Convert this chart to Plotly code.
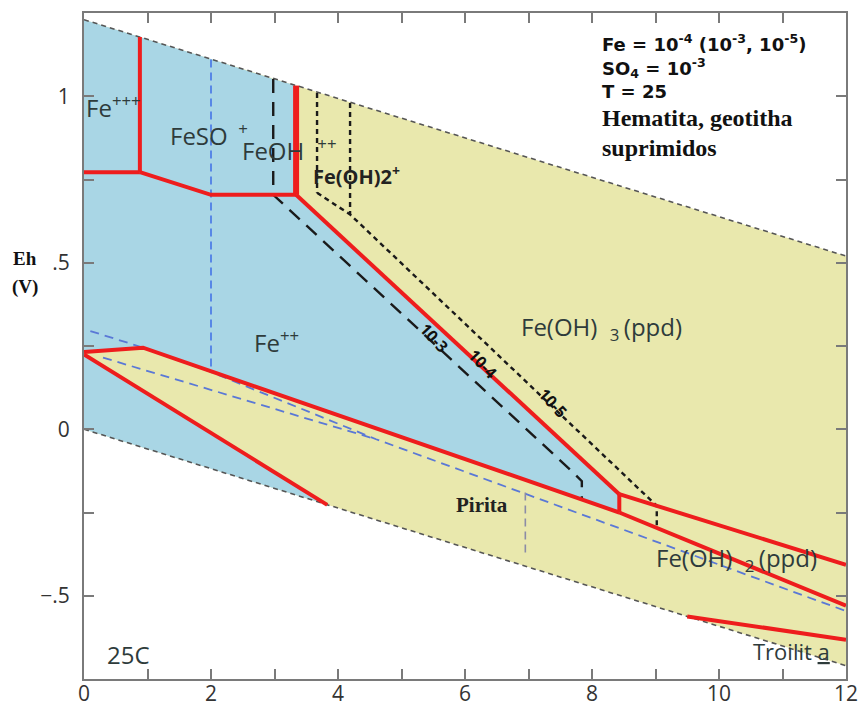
import plotly.graph_objects as go

# Eh-pH diagram for the Fe-S-O-H system at 25 C
# ---- water stability limits ----
water_ph = [0, 12]
o2_eh = [1.23, 0.52]
h2_eh = [0.0, -0.71]

# ---- field polygons ----
stable_ph = [0, 12, 12, 0]
stable_eh = [1.23, 0.52, -0.71, 0.0]

aqueous_ph = [0, 0.88, 2.0, 2.98, 3.34, 3.34, 8.43, 8.43, 0.93, 0]
aqueous_eh = [1.23, 1.178, 1.112, 1.052, 1.032, 0.704, -0.195, -0.25, 0.245, 0.232]

fe2_low_ph = [0, 3.83, 0]
fe2_low_eh = [0.225, -0.227, 0.0]

# ---- Fe = 1e-4 boundaries (solid red) ----
fe3_feso4_ph = [0.88, 0.88]
fe3_feso4_eh = [1.178, 0.772]
fe3_fe2_ph = [0, 0.88]
fe3_fe2_eh = [0.772, 0.772]
feso4_fe2_ph = [0.88, 2.0, 3.34]
feso4_fe2_eh = [0.772, 0.704, 0.704]
feoh_ppd_ph = [3.34, 3.34]
feoh_ppd_eh = [1.032, 0.704]
fe2_feoh3_ph = [3.34, 8.43]
fe2_feoh3_eh = [0.704, -0.195]
fe2_feoh2_ph = [8.43, 8.43]
fe2_feoh2_eh = [-0.195, -0.25]
feoh3_feoh2_ph = [8.43, 12]
feoh3_feoh2_eh = [-0.195, -0.407]
fe2_pyrite_ph = [0, 0.93, 8.43]
fe2_pyrite_eh = [0.232, 0.245, -0.25]
pyrite_feoh2_ph = [8.43, 12]
pyrite_feoh2_eh = [-0.25, -0.53]
pyrite_fe2_ph = [0, 3.83]
pyrite_fe2_eh = [0.225, -0.227]
troilite_ph = [9.5, 12]
troilite_eh = [-0.562, -0.632]

# ---- Fe = 1e-3 boundaries (long dash) ----
fe_m3_ph = [2.98, 2.98, 7.70, 7.84, 7.84]
fe_m3_eh = [1.052, 0.704, -0.129, -0.156, -0.21]

# ---- Fe = 1e-5 boundaries (short dash) ----
fe_m5_a_ph = [3.67, 3.67]
fe_m5_a_eh = [1.01, 0.71]
fe_m5_b_ph = [4.19, 4.19]
fe_m5_b_eh = [0.98, 0.645]
fe_m5_c_ph = [3.67, 4.19, 9.02, 9.02]
fe_m5_c_eh = [0.71, 0.645, -0.23, -0.30]

# ---- sulfur species boundaries (blue dashed) ----
hso4_so4_ph = [2.0, 2.0]
hso4_so4_eh = [1.11, 0.174]
sulfate_h2s_ph = [0.1, 0.85, 2.0, 4.6, 12]
sulfate_h2s_eh = [0.295, 0.25, 0.172, -0.03, -0.546]
sulfate_s_ph = [0.3, 4.6]
sulfate_s_eh = [0.215, -0.03]
h2s_hs_ph = [6.95, 6.95]
h2s_hs_eh = [-0.19, -0.385]

# ---- axis labels ----
x_tick_vals = [0, 2, 4, 6, 8, 10, 12]
x_tick_text = ["0", "2", "4", "6", "8", "10", "12"]
y_tick_vals = [-0.5, 0, 0.5, 1]
y_tick_text = ["\u2212.5", "0", ".5", "1"]

BLUE_FILL = "#a9d6e5"
YELLOW_FILL = "#e9e8ad"
RED = "#ee1d1d"
SULF = "#5a78d6"

fig = go.Figure()


def polygon(xs, ys, color):
    fig.add_trace(go.Scatter(x=xs, y=ys, fill="toself", fillcolor=color,
                             mode="none", hoverinfo="skip", showlegend=False))


def line(xs, ys, color, width, dash="solid"):
    fig.add_trace(go.Scatter(x=xs, y=ys, mode="lines",
                             line=dict(color=color, width=width, dash=dash),
                             hoverinfo="skip", showlegend=False))


polygon(stable_ph, stable_eh, YELLOW_FILL)
polygon(aqueous_ph, aqueous_eh, BLUE_FILL)
polygon(fe2_low_ph, fe2_low_eh, BLUE_FILL)

# water limits
line(water_ph, o2_eh, "#555555", 1.6, "5px,4px")
line(water_ph, h2_eh, "#555555", 1.6, "5px,4px")

# sulfur boundaries
line(hso4_so4_ph, hso4_so4_eh, "#4f7fe6", 1.8, "8px,5px")
line(sulfate_h2s_ph, sulfate_h2s_eh, SULF, 1.8, "9px,6px")
line(sulfate_s_ph, sulfate_s_eh, SULF, 1.8, "9px,6px")
line(h2s_hs_ph, h2s_hs_eh, "#8c8ca6", 1.6, "8px,5px")

# alternative Fe concentrations
line(fe_m3_ph, fe_m3_eh, "#1a1a1a", 2.4, "14px,9px")
line(fe_m5_a_ph, fe_m5_a_eh, "#1a1a1a", 2.4, "5px,4px")
line(fe_m5_b_ph, fe_m5_b_eh, "#1a1a1a", 2.4, "5px,4px")
line(fe_m5_c_ph, fe_m5_c_eh, "#1a1a1a", 2.4, "5px,4px")

# Fe = 1e-4 boundaries
for xs, ys in [(fe3_feso4_ph, fe3_feso4_eh), (fe3_fe2_ph, fe3_fe2_eh),
               (feso4_fe2_ph, feso4_fe2_eh), (fe2_feoh3_ph, fe2_feoh3_eh),
               (fe2_feoh2_ph, fe2_feoh2_eh), (feoh3_feoh2_ph, feoh3_feoh2_eh),
               (fe2_pyrite_ph, fe2_pyrite_eh), (pyrite_feoh2_ph, pyrite_feoh2_eh),
               (pyrite_fe2_ph, pyrite_fe2_eh), (troilite_ph, troilite_eh)]:
    line(xs, ys, RED, 4)
line(feoh_ppd_ph, feoh_ppd_eh, RED, 6)

SANS = "Open Sans, Liberation Sans, sans-serif"
SERIF = "Liberation Serif, DejaVu Serif, serif"
LABEL = "#2e3b3b"


def label(x, y, text, size=24, family=SANS, color=LABEL, anchor="left", angle=0,
          xref="x", yref="y"):
    fig.add_annotation(x=x, y=y, xref=xref, yref=yref, text=text, showarrow=False,
                       xanchor=anchor, yanchor="middle", textangle=angle,
                       font=dict(family=family, size=size, color=color))


label(0.0, 0.97, "Fe<sup>+++</sup>")
label(1.33, 0.885, "FeSO <sup> +</sup>")
label(2.46, 0.84, "FeOH<sup>   ++</sup>")
label(3.57, 0.763, "<b>Fe(OH)2<sup>+</sup></b>", 20, color="#222222")
label(2.65, 0.265, "Fe<sup>++</sup>")
label(6.85, 0.305, "Fe(OH)  <sub>3 </sub>(ppd)")
label(5.83, -0.228, "<b>Pirita</b>", 21, SERIF, "#222222")
label(8.97, -0.39, "Fe(OH)  <sub>2 </sub>(ppd)")
label(10.5, -0.665, "Troilit <u>a</u>", 22)
label(0.33, -0.675, "25C", 24)

label(5.52, 0.275, "<b>10-3</b>", 16, color="#111111", anchor="center", angle=47)
label(6.28, 0.195, "<b>10-4</b>", 16, color="#111111", anchor="center", angle=47)
label(7.39, 0.08, "<b>10-5</b>", 16, color="#111111", anchor="center", angle=47)

INFO = "DejaVu Sans, Liberation Sans, sans-serif"
label(8.13, 1.16, "<b>Fe = 10<sup>-4</sup> (10<sup>-3</sup>, 10<sup>-5</sup>)</b>", 18, INFO, "#111111")
label(8.13, 1.085, "<b>SO<sub>4</sub> = 10<sup>-3</sup></b>", 18, INFO, "#111111")
label(8.13, 1.015, "<b>T = 25</b>", 18, INFO, "#111111")
label(8.13, 0.934, "<b>Hematita, geotitha</b>", 24, SERIF, "#111111")
label(8.13, 0.846, "<b>suprimidos</b>", 24, SERIF, "#111111")

label(-0.077, 0.631, "<b>Eh</b>", 19, SERIF, "#111111", "center", xref="paper", yref="paper")
label(-0.077, 0.589, "<b>(V)</b>", 19, SERIF, "#111111", "center", xref="paper", yref="paper")

# pH labels sit just under the bottom axis line
for v, t in zip(x_tick_vals, x_tick_text):
    label(v, -0.021, t, 21, SANS, "#333333", "center", yref="paper")

axis_common = dict(showgrid=False, zeroline=False, showline=True, linecolor="#7a7a7a",
                   linewidth=2, mirror="ticks", ticks="inside", ticklen=10,
                   tickwidth=1.5, tickcolor="#7a7a7a", automargin=False,
                   tickfont=dict(family=SANS, size=21, color="#333333"))

fig.update_xaxes(range=[0, 12], tickvals=x_tick_vals, showticklabels=False,
                 minor=dict(dtick=1, ticks="inside", ticklen=10, tickwidth=1.5,
                            tickcolor="#7a7a7a"), **axis_common)
fig.update_yaxes(range=[-0.75, 1.25], tickvals=y_tick_vals, ticktext=y_tick_text,
                 ticklabelstandoff=8,
                 minor=dict(dtick=0.25, ticks="inside", ticklen=10, tickwidth=1.5,
                            tickcolor="#7a7a7a"), **axis_common)

fig.update_layout(width=859, height=706, margin=dict(l=84, r=13, t=13, b=27),
                  plot_bgcolor="white", paper_bgcolor="white", showlegend=False)

fig.write_html("out.html")
